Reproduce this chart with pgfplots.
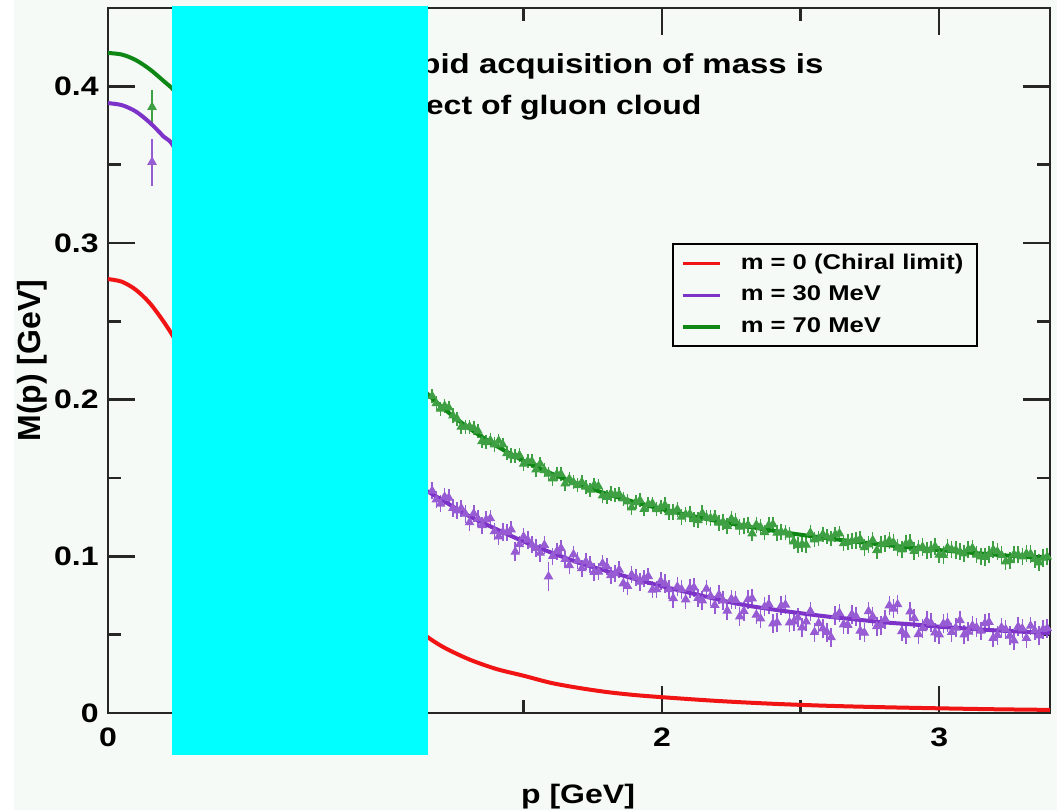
\documentclass[border=0pt]{standalone}
\usepackage{fontspec}
\setmainfont{Liberation Sans}[FakeStretch=1.2]
\newfontfamily\ylabfont{Liberation Sans}
\usepackage{pgfplots}
\usepackage{pgfplotstable}
\pgfplotsset{compat=1.18}
\definecolor{bg}{RGB}{245,250,246}
\definecolor{myred}{RGB}{240,20,20}
\definecolor{mypurple}{RGB}{125,50,200}
\definecolor{mygreen}{RGB}{15,135,20}
\definecolor{pcyan}{RGB}{0,255,255}

\pgfplotstableread{
x y e
0.159 0.3868 0.0109
1.17 0.2023 0.0045
1.185 0.1977 0.0045
1.20 0.1941 0.0045
1.215 0.1960 0.0045
1.23 0.1949 0.0045
1.245 0.1899 0.0045
1.26 0.1878 0.0045
1.275 0.1827 0.0045
1.29 0.1826 0.0045
1.305 0.1828 0.0045
1.32 0.1819 0.0045
1.335 0.1802 0.0045
1.35 0.1735 0.0045
1.365 0.1728 0.0045
1.38 0.1740 0.0045
1.395 0.1714 0.0045
1.41 0.1737 0.0045
1.425 0.1713 0.0045
1.44 0.1658 0.0045
1.455 0.1644 0.0045
1.47 0.1639 0.0045
1.485 0.1645 0.0045
1.50 0.1590 0.0045
1.515 0.1608 0.0045
1.53 0.1606 0.0045
1.545 0.1554 0.0045
1.56 0.1591 0.0045
1.575 0.1549 0.0045
1.59 0.1527 0.0045
1.605 0.1496 0.0045
1.62 0.1525 0.0045
1.635 0.1525 0.0045
1.65 0.1464 0.0045
1.665 0.1494 0.0045
1.68 0.1473 0.0045
1.695 0.1453 0.0045
1.71 0.1473 0.0045
1.725 0.1444 0.0045
1.74 0.1425 0.0045
1.755 0.1456 0.0045
1.77 0.1447 0.0045
1.785 0.1388 0.0045
1.80 0.1379 0.0045
1.815 0.1401 0.0045
1.83 0.1393 0.0045
1.845 0.1396 0.0045
1.86 0.1368 0.0045
1.875 0.1350 0.0045
1.89 0.1312 0.0045
1.905 0.1345 0.0045
1.92 0.1358 0.0045
1.935 0.1301 0.0045
1.95 0.1334 0.0045
1.965 0.1337 0.0045
1.98 0.1300 0.0045
1.995 0.1314 0.0045
2.01 0.1327 0.0050
2.025 0.1281 0.0050
2.04 0.1285 0.0050
2.055 0.1299 0.0050
2.07 0.1253 0.0050
2.085 0.1267 0.0050
2.10 0.1271 0.0050
2.115 0.1236 0.0050
2.13 0.1230 0.0050
2.145 0.1275 0.0050
2.16 0.1249 0.0050
2.175 0.1244 0.0050
2.19 0.1249 0.0050
2.205 0.1214 0.0050
2.22 0.1219 0.0050
2.235 0.1194 0.0050
2.25 0.1239 0.0050
2.265 0.1224 0.0050
2.28 0.1189 0.0050
2.295 0.1195 0.0050
2.31 0.1200 0.0050
2.325 0.1146 0.0050
2.34 0.1201 0.0050
2.355 0.1187 0.0050
2.37 0.1153 0.0050
2.385 0.1199 0.0050
2.40 0.1204 0.0050
2.415 0.1150 0.0050
2.43 0.1156 0.0050
2.445 0.1152 0.0050
2.46 0.1138 0.0050
2.475 0.1095 0.0050
2.49 0.1071 0.0050
2.505 0.1077 0.0050
2.52 0.1073 0.0050
2.535 0.1150 0.0050
2.55 0.1107 0.0050
2.565 0.1114 0.0050
2.58 0.1140 0.0050
2.595 0.1127 0.0050
2.61 0.1113 0.0050
2.625 0.1140 0.0050
2.64 0.1146 0.0050
2.655 0.1083 0.0050
2.67 0.1090 0.0050
2.685 0.1097 0.0050
2.70 0.1103 0.0055
2.715 0.1110 0.0055
2.73 0.1057 0.0055
2.745 0.1075 0.0055
2.76 0.1102 0.0055
2.775 0.1039 0.0055
2.79 0.1076 0.0055
2.805 0.1083 0.0055
2.82 0.1100 0.0055
2.835 0.1088 0.0055
2.85 0.1055 0.0055
2.865 0.1043 0.0055
2.88 0.1080 0.0055
2.895 0.1087 0.0055
2.91 0.1034 0.0055
2.925 0.1052 0.0055
2.94 0.1060 0.0055
2.955 0.1038 0.0055
2.97 0.1045 0.0055
2.985 0.1063 0.0055
3.00 0.1010 0.0055
3.015 0.1008 0.0055
3.03 0.1056 0.0055
3.045 0.1044 0.0055
3.06 0.1041 0.0055
3.075 0.1029 0.0055
3.09 0.1017 0.0055
3.105 0.1045 0.0055
3.12 0.1052 0.0055
3.135 0.1010 0.0055
3.15 0.0998 0.0055
3.165 0.0996 0.0055
3.18 0.1014 0.0055
3.195 0.1042 0.0055
3.21 0.1030 0.0055
3.225 0.1008 0.0055
3.24 0.0966 0.0055
3.255 0.0974 0.0055
3.27 0.1012 0.0055
3.285 0.1010 0.0055
3.30 0.0998 0.0055
3.315 0.1017 0.0055
3.33 0.1015 0.0055
3.345 0.0983 0.0055
3.36 0.0961 0.0055
3.375 0.0990 0.0055
3.39 0.0998 0.0055
}\greendata

\pgfplotstableread{
x y e
0.159 0.3517 0.0150
1.17 0.1418 0.0055
1.185 0.1362 0.0055
1.20 0.1336 0.0055
1.215 0.1380 0.0055
1.23 0.1374 0.0055
1.245 0.1308 0.0055
1.26 0.1292 0.0055
1.275 0.1307 0.0055
1.29 0.1271 0.0055
1.305 0.1217 0.0055
1.32 0.1273 0.0055
1.335 0.1241 0.0055
1.35 0.1198 0.0055
1.365 0.1235 0.0055
1.38 0.1242 0.0055
1.395 0.1160 0.0055
1.41 0.1127 0.0055
1.425 0.1155 0.0055
1.44 0.1153 0.0055
1.455 0.1171 0.0055
1.47 0.1029 0.0060
1.485 0.1077 0.0055
1.50 0.1125 0.0055
1.515 0.1105 0.0055
1.53 0.1074 0.0055
1.545 0.1053 0.0055
1.56 0.1022 0.0055
1.575 0.1072 0.0055
1.59 0.0871 0.0090
1.605 0.1001 0.0055
1.62 0.1031 0.0055
1.635 0.1052 0.0055
1.65 0.0982 0.0055
1.665 0.0942 0.0055
1.68 0.1012 0.0055
1.695 0.0973 0.0055
1.71 0.0924 0.0055
1.725 0.0966 0.0055
1.74 0.0948 0.0055
1.755 0.0900 0.0055
1.77 0.0902 0.0055
1.785 0.0954 0.0055
1.80 0.0936 0.0055
1.815 0.0879 0.0055
1.83 0.0891 0.0055
1.845 0.0914 0.0055
1.86 0.0827 0.0055
1.875 0.0810 0.0055
1.89 0.0882 0.0055
1.905 0.0865 0.0055
1.92 0.0837 0.0055
1.935 0.0860 0.0055
1.95 0.0873 0.0055
1.965 0.0786 0.0055
1.98 0.0789 0.0055
1.995 0.0842 0.0055
2.01 0.0825 0.0060
2.025 0.0789 0.0060
2.04 0.0732 0.0060
2.055 0.0806 0.0060
2.07 0.0790 0.0060
2.085 0.0724 0.0060
2.10 0.0797 0.0060
2.115 0.0801 0.0060
2.13 0.0734 0.0060
2.145 0.0718 0.0060
2.16 0.0792 0.0060
2.175 0.0746 0.0060
2.19 0.0689 0.0060
2.205 0.0754 0.0060
2.22 0.0718 0.0060
2.235 0.0653 0.0060
2.25 0.0727 0.0060
2.265 0.0721 0.0060
2.28 0.0615 0.0060
2.295 0.0650 0.0060
2.31 0.0725 0.0060
2.325 0.0731 0.0060
2.34 0.0627 0.0060
2.355 0.0603 0.0060
2.37 0.0679 0.0060
2.385 0.0695 0.0060
2.40 0.0571 0.0060
2.415 0.0578 0.0060
2.43 0.0684 0.0060
2.445 0.0691 0.0060
2.46 0.0577 0.0060
2.475 0.0583 0.0060
2.49 0.0609 0.0060
2.505 0.0546 0.0060
2.52 0.0583 0.0060
2.535 0.0650 0.0060
2.55 0.0516 0.0060
2.565 0.0573 0.0060
2.58 0.0539 0.0060
2.595 0.0516 0.0060
2.61 0.0483 0.0060
2.625 0.0621 0.0060
2.64 0.0638 0.0060
2.655 0.0565 0.0060
2.67 0.0562 0.0060
2.685 0.0630 0.0060
2.70 0.0617 0.0060
2.715 0.0525 0.0060
2.73 0.0512 0.0060
2.745 0.0649 0.0060
2.76 0.0616 0.0060
2.775 0.0554 0.0060
2.79 0.0561 0.0060
2.805 0.0599 0.0060
2.82 0.0686 0.0060
2.835 0.0665 0.0060
2.85 0.0693 0.0060
2.865 0.0521 0.0060
2.88 0.0499 0.0060
2.895 0.0647 0.0060
2.91 0.0605 0.0060
2.925 0.0503 0.0060
2.94 0.0540 0.0060
2.955 0.0588 0.0060
2.97 0.0576 0.0060
2.985 0.0514 0.0060
3.00 0.0501 0.0060
3.015 0.0569 0.0060
3.03 0.0577 0.0060
3.045 0.0516 0.0060
3.06 0.0544 0.0060
3.075 0.0592 0.0060
3.09 0.0500 0.0060
3.105 0.0519 0.0060
3.12 0.0557 0.0060
3.135 0.0546 0.0060
3.15 0.0524 0.0060
3.165 0.0572 0.0060
3.18 0.0580 0.0060
3.195 0.0479 0.0060
3.21 0.0497 0.0060
3.225 0.0546 0.0060
3.24 0.0534 0.0060
3.255 0.0493 0.0060
3.27 0.0462 0.0060
3.285 0.0551 0.0060
3.30 0.0539 0.0060
3.315 0.0478 0.0060
3.33 0.0556 0.0060
3.345 0.0526 0.0060
3.36 0.0494 0.0060
3.375 0.0535 0.0060
3.39 0.0541 0.0060
}\purpledata

\begin{document}
\begin{tikzpicture}
\fill[bg] (-40.5pt,-36.375pt) rectangle (355.875pt,267.375pt);
\fill[white] (-40.5pt,-36.375pt) rectangle (-35.25pt,267.375pt);
\begin{axis}[
  at={(0,0)}, anchor=south west,
  scale only axis, width=353.25pt, height=264.375pt,
  xmin=0, xmax=3.4, ymin=0, ymax=0.45,
  xtick={0,1,2,3}, minor x tick num=1,
  ytick={0,0.1,0.2,0.3,0.4}, minor y tick num=1,
  major tick length=10pt, minor tick length=5pt,
  tick style={black!85, line width=0.9pt},
  axis line style={black!85, line width=1.1pt},
  tick label style={font=\fontsize{10}{12}\selectfont\bfseries},
  /pgf/number format/assume math mode=true,
  xticklabel style={yshift=-2pt},
  xlabel={p [GeV]}, ylabel={M(p) [GeV]},
  xlabel style={font=\fontsize{10}{12}\selectfont\bfseries, at={(axis description cs:0.499,-0.129)}, anchor=base},
  ylabel style={font=\fontsize{12}{14}\selectfont\ylabfont\bfseries, at={(axis description cs:-0.0807,0.5)}, anchor=center},
  legend style={at={(0.599,0.667)}, anchor=north west, draw=black, line width=0.8pt, fill=bg,
    font=\fontsize{8}{9.6}\selectfont\bfseries, row sep=0.75pt, inner xsep=3pt, inner ysep=1.75pt},
  legend cell align=left,
  legend image code/.code={\draw[#1, sharp plot, line width=1.3pt] (0pt,0pt) -- (14pt,0pt); \path (18.9pt,0pt);},
]
\addplot[only marks, mark=triangle*, mark size=1.7pt, color=mygreen!80!white, forget plot,
  error bars/.cd, y dir=both, y explicit, error bar style={line width=0.6pt}, error mark=none]
  table[x=x, y=y, y error=e] {\greendata};
\addplot[only marks, mark=triangle*, mark size=1.7pt, color=mypurple!80!white, forget plot,
  error bars/.cd, y dir=both, y explicit, error bar style={line width=0.6pt}, error mark=none]
  table[x=x, y=y, y error=e] {\purpledata};

\addplot[myred, line width=1.5pt, smooth] coordinates {
(0,0.277) (0.05,0.2753) (0.1,0.2702) (0.15,0.2618) (0.2,0.2500) (0.25,0.2360)
(0.4,0.190) (0.6,0.135) (0.8,0.095) (1.0,0.067) (1.1,0.0550) (1.2,0.0431)
(1.3,0.0345) (1.4,0.0282) (1.5,0.0238) (1.6,0.0192) (1.7,0.0160) (1.8,0.0134)
(1.9,0.0115) (2.0,0.0101) (2.2,0.0077) (2.4,0.0059) (2.6,0.0046) (2.8,0.0037)
(3.0,0.0030) (3.2,0.0024) (3.4,0.0020)};
\addlegendentry{{m = 0 (Chiral limit)}}
\addplot[mypurple, line width=1.5pt, smooth] coordinates {
(0,0.3893) (0.05,0.388) (0.1,0.384) (0.15,0.377) (0.2,0.368) (0.25,0.357)
(0.4,0.290) (0.6,0.235) (0.8,0.192) (1.0,0.160) (1.1,0.1473) (1.2,0.1366)
(1.3,0.1260) (1.4,0.1175) (1.5,0.1095) (1.6,0.1024) (1.7,0.0959) (1.8,0.0906)
(1.9,0.0857) (2.0,0.0809) (2.1,0.0767) (2.2,0.0725) (2.3,0.0688) (2.4,0.0661)
(2.5,0.0637) (2.6,0.0615) (2.7,0.0597) (2.8,0.0579) (2.9,0.0566) (3.0,0.0551)
(3.1,0.0539) (3.2,0.0528) (3.3,0.0519) (3.4,0.0510)};
\addlegendentry{{m = 30 MeV}}
\addplot[mygreen, line width=1.5pt, smooth] coordinates {
(0,0.4213) (0.05,0.4203) (0.1,0.4168) (0.15,0.4110) (0.2,0.4035) (0.25,0.3950)
(0.4,0.362) (0.6,0.320) (0.8,0.277) (1.0,0.236) (1.1,0.2133) (1.2,0.1961)
(1.3,0.1822) (1.4,0.1707) (1.5,0.1610) (1.6,0.1529) (1.7,0.1459) (1.8,0.1399)
(1.9,0.1347) (2.0,0.1301) (2.1,0.1261) (2.2,0.1225) (2.3,0.1193) (2.4,0.1164)
(2.5,0.1138) (2.6,0.1115) (2.7,0.1093) (2.8,0.1074) (2.9,0.1056) (3.0,0.1040)
(3.1,0.1025) (3.2,0.1011) (3.3,0.0998) (3.4,0.0987)};
\addlegendentry{{m = 70 MeV}}

\node[anchor=base east, font=\fontsize{10.3}{12}\selectfont\bfseries, inner sep=0pt] at (axis cs:2.584,0.4079) {Rapid acquisition of mass is};
\node[anchor=base east, font=\fontsize{10}{12}\selectfont\bfseries, inner sep=0pt] at (axis cs:2.144,0.3823) {effect of gluon cloud};
\end{axis}
\fill[pcyan] (24pt,-15.75pt) rectangle (120pt,265.2pt);
\pgfresetboundingbox
\useasboundingbox (-40.5pt,-36.375pt) rectangle (355.875pt,267.375pt);
\end{tikzpicture}
\end{document}
